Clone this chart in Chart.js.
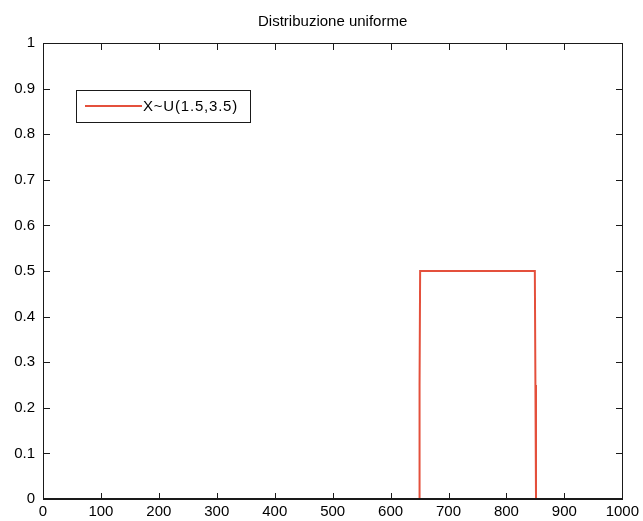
<!DOCTYPE html>
<html><head><meta charset="utf-8">
<script src="https://cdn.jsdelivr.net/npm/chart.js@4/dist/chart.umd.min.js"></script>
<style>html,body{margin:0;padding:0;background:#fff}#wrap{width:643px;height:521px}</style>
</head><body><div id="wrap"><canvas id="c" width="643" height="521"></canvas></div>
<script>
const titleText = "Distribuzione uniforme";
const seriesLabel = "X~U(1.5,3.5)";
const xValues = [0, 650, 650, 651, 849, 850, 851, 1000];
const yValues = [0, 0, 0.25, 0.5, 0.5, 0.25, 0, 0];
const xTicks = [0,100,200,300,400,500,600,700,800,900,1000];
const yTicks = [0,0.1,0.2,0.3,0.4,0.5,0.6,0.7,0.8,0.9,1];
const lineColor = "#e4503c";
const FONT = "'Liberation Sans', Arial, sans-serif";

const framePlugin = {
  id: 'frame',
  afterDraw(chart) {
    const ctx = chart.ctx, a = chart.chartArea;
    const xs = chart.scales.x, ys = chart.scales.y;
    ctx.save();
    ctx.fillStyle = '#1a1a1a';
    const L = Math.round(a.left), R = Math.round(a.right);
    const T = Math.round(a.top), B = Math.round(a.bottom);
    ctx.fillRect(L, T, R - L + 1, 1);
    ctx.fillRect(L, B - 1, R - L + 1, 2);
    ctx.fillRect(L, T, 1, B - T + 1);
    ctx.fillRect(R, T, 1, B - T + 1);
    xTicks.forEach(v => {
      const px = Math.round(xs.getPixelForValue(v));
      ctx.fillRect(px, B - 6, 1, 6);
      ctx.fillRect(px, T + 1, 1, 6);
    });
    yTicks.forEach(v => {
      const py = Math.round(ys.getPixelForValue(v));
      ctx.fillRect(L + 1, py, 6, 1);
      ctx.fillRect(R - 6, py, 6, 1);
    });
    // title
    ctx.fillStyle = '#000';
    ctx.font = '15px ' + FONT;
    ctx.textAlign = 'center'; ctx.textBaseline = 'middle';
    ctx.fillText(titleText, (a.left + a.right) / 2, 22);
    // legend
    const lx = 76, ly = 90, lw = 174, lh = 32;
    ctx.fillStyle = '#fff';
    ctx.fillRect(lx, ly, lw, lh);
    ctx.fillStyle = '#1a1a1a';
    ctx.fillRect(lx, ly, lw + 1, 1);
    ctx.fillRect(lx, ly + lh, lw + 1, 1);
    ctx.fillRect(lx, ly, 1, lh + 1);
    ctx.fillRect(lx + lw, ly, 1, lh + 1);
    ctx.fillStyle = lineColor;
    ctx.fillRect(85, ly + lh/2 - 1, 57, 2);
    ctx.fillStyle = '#000';
    ctx.font = '15px ' + FONT;
    try { ctx.letterSpacing = '0.8px'; } catch (e) {}
    ctx.textAlign = 'left';
    ctx.fillText(seriesLabel, 143, ly + lh/2 + 1);
    ctx.restore();
  }
};

new Chart(document.getElementById('c'), {
  type: 'line',
  data: {
    datasets: [{
      label: seriesLabel,
      data: xValues.map((x, i) => ({x: x, y: yValues[i]})),
      borderColor: lineColor,
      borderWidth: 2,
      pointRadius: 0,
      tension: 0,
      fill: false,
      clip: 0
    }]
  },
  options: {
    responsive: false,
    animation: false,
    layout: { padding: { top: 43, right: 20, left: 0, bottom: 0 } },
    plugins: { legend: { display: false }, title: { display: false }, tooltip: { enabled: false } },
    scales: {
      x: {
        type: 'linear', min: 0, max: 1000,
        afterFit(s) { s.height = 22; },
        afterBuildTicks(s) { s.ticks = xTicks.map(v => ({value: v})); },
        grid: { display: false, drawTicks: false },
        border: { display: false },
        ticks: { color: '#000', font: { family: FONT, size: 15 }, padding: 4, maxRotation: 0, autoSkip: false,
          callback: v => String(v) }
      },
      y: {
        type: 'linear', min: 0, max: 1,
        afterFit(s) { s.width = 43; },
        afterBuildTicks(s) { s.ticks = yTicks.map(v => ({value: v})); },
        grid: { display: false, drawTicks: false },
        border: { display: false },
        ticks: { color: '#000', font: { family: FONT, size: 15 }, padding: 8, autoSkip: false,
          callback: v => String(Math.round(v * 10) / 10) }
      }
    }
  },
  plugins: [framePlugin]
});
</script>
</body></html>
